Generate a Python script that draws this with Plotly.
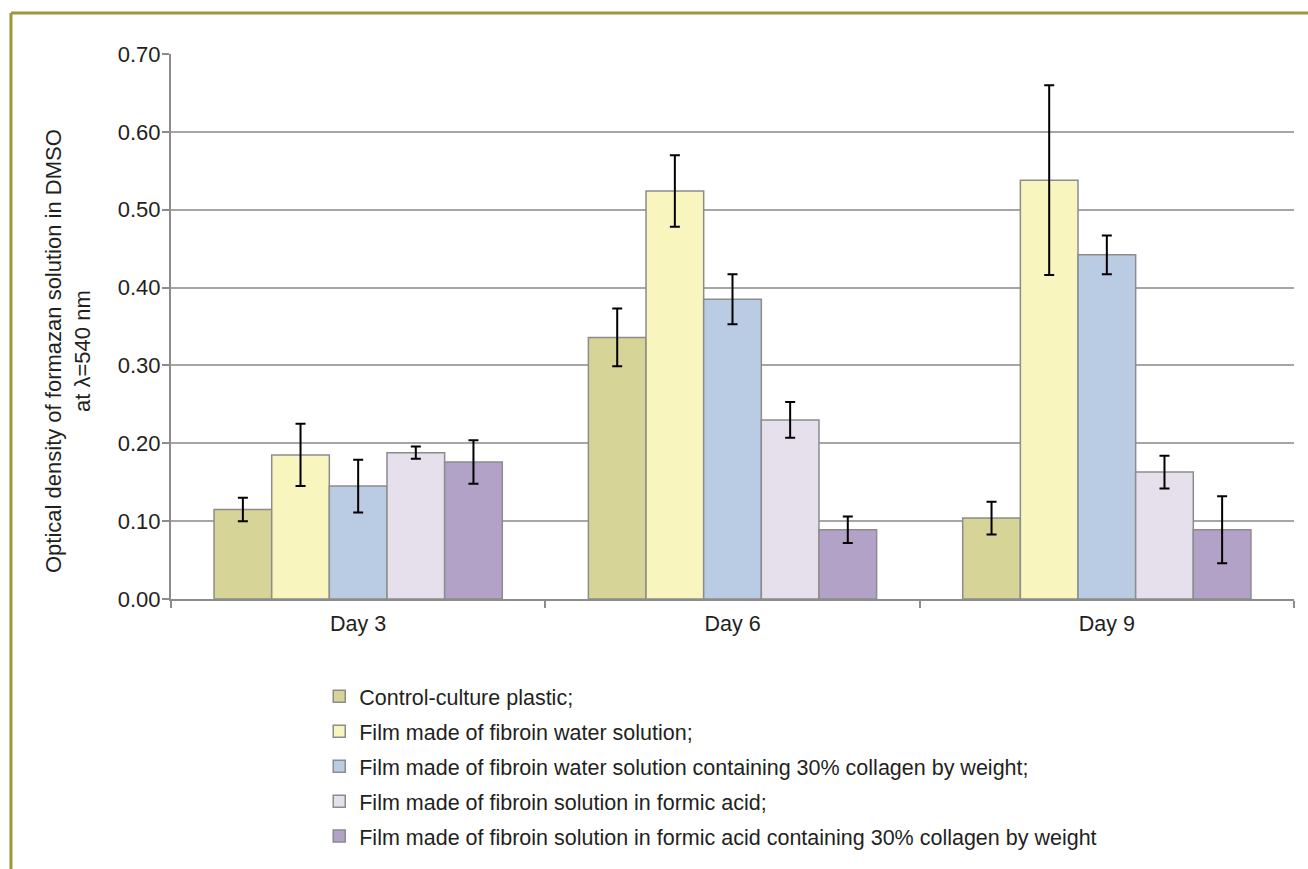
import plotly.graph_objects as go

days = ["Day 3", "Day 6", "Day 9"]

series_names = [
    "Control-culture plastic;",
    "Film made of fibroin water solution;",
    "Film made of fibroin water solution containing 30% collagen by weight;",
    "Film made of fibroin solution in formic acid;",
    "Film made of fibroin solution in formic acid containing 30% collagen by weight",
]

control_plastic = [0.115, 0.336, 0.104]
fibroin_water = [0.185, 0.524, 0.538]
fibroin_water_collagen = [0.145, 0.385, 0.442]
fibroin_formic = [0.188, 0.230, 0.163]
fibroin_formic_collagen = [0.176, 0.089, 0.089]

err_control_plastic = [0.015, 0.037, 0.021]
err_fibroin_water = [0.040, 0.046, 0.122]
err_fibroin_water_collagen = [0.034, 0.032, 0.025]
err_fibroin_formic = [0.008, 0.023, 0.021]
err_fibroin_formic_collagen = [0.028, 0.017, 0.043]

colors = ["#D6D597", "#F8F5BE", "#BACCE4", "#E5E0EC", "#B2A2C7"]

values = [control_plastic, fibroin_water, fibroin_water_collagen,
          fibroin_formic, fibroin_formic_collagen]
errors = [err_control_plastic, err_fibroin_water, err_fibroin_water_collagen,
          err_fibroin_formic, err_fibroin_formic_collagen]

y_ticks = [0.0, 0.1, 0.2, 0.3, 0.4, 0.5, 0.6, 0.7]
y_tick_labels = ["0.00", "0.10", "0.20", "0.30", "0.40", "0.50", "0.60", "0.70"]

y_title = "Optical density of formazan solution in DMSO<br>at \u03bb=540 nm"

FONT = "Liberation Sans, Arial, sans-serif"
TEXT = "#231F20"

fig = go.Figure()
for i, (name, vals, errs, col) in enumerate(zip(series_names, values, errors, colors)):
    fig.add_trace(go.Bar(
        x=days, y=vals, name=name, legendgroup=f"g{i}",
        marker=dict(color=col, line=dict(color="#8C8C8C", width=1.5)),
        error_y=dict(type="data", array=errs, visible=True,
                     color="black", thickness=2, width=5),
    ))

# L-shaped frame line along the top and left edge of the page
frame = "#9A9A3C"
fig.add_shape(type="line", xref="paper", yref="paper",
              x0=-0.1425, x1=1.02, y0=1.0752, y1=1.0752,
              line=dict(color=frame, width=3))
fig.add_shape(type="line", xref="paper", yref="paper",
              x0=-0.1425, x1=-0.1425, y0=1.0752, y1=-0.5,
              line=dict(color=frame, width=3))

# Rotated y-axis title, placed slightly below the plot's vertical centre
fig.add_annotation(
    text=y_title, textangle=-90, showarrow=False,
    xref="paper", yref="paper", x=-0.0917, y=0.455,
    xanchor="center", yanchor="middle", align="center",
    font=dict(family=FONT, size=22, color=TEXT),
)

fig.update_layout(
    width=1308, height=869,
    margin=dict(l=171, r=14, t=54, b=270, autoexpand=False),
    paper_bgcolor="white", plot_bgcolor="white",
    barmode="group", bargap=0.23, bargroupgap=0,
    font=dict(family=FONT, size=22, color=TEXT),
    showlegend=True,
    legend=dict(x=0.132, y=-0.141, xanchor="left", yanchor="top",
                orientation="v", tracegroupgap=4,
                font=dict(family=FONT, size=21.5, color=TEXT),
                bgcolor="rgba(0,0,0,0)"),
    xaxis=dict(
        showline=True, linecolor="#8C8C8C", linewidth=2,
        ticks="outside", tickson="boundaries", ticklen=7,
        tickcolor="#8C8C8C", tickwidth=2, ticklabelstandoff=4,
        showgrid=False, tickfont=dict(size=21.5, color=TEXT),
    ),
    yaxis=dict(
        range=[0, 0.7], tickvals=y_ticks, ticktext=y_tick_labels,
        showline=True, linecolor="#8C8C8C", linewidth=2,
        ticks="outside", ticklen=7, tickcolor="#8C8C8C", tickwidth=2,
        ticklabelstandoff=-3,
        showgrid=True, gridcolor="#A6A6A6", gridwidth=1.5,
        zeroline=False, tickfont=dict(size=22, color=TEXT),
    ),
)

fig.write_html("out.html")
